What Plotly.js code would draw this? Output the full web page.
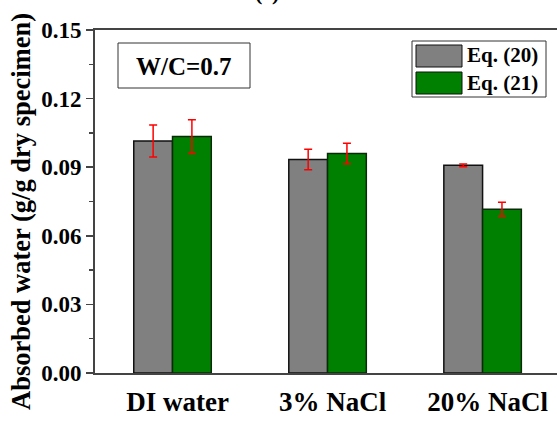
<!DOCTYPE html>
<html>
<head>
<meta charset="utf-8">
<script src="https://cdn.plot.ly/plotly-3.0.1.min.js"></script>
<style>html,body{margin:0;padding:0;background:#fff;}#chart{width:557px;height:421px;}</style>
</head>
<body>
<div id="chart"></div>
<script>
const categories = ["DI water", "3% NaCl", "20% NaCl"];
const eq20Values = [0.1015, 0.0934, 0.0908];
const eq20Errors = [0.0070, 0.0045, 0.0006];
const eq21Values = [0.1034, 0.0960, 0.0716];
const eq21Errors = [0.0074, 0.0045, 0.0031];
const seriesNames = ["Eq. (20)", "Eq. (21)"];
const yTicks = [0, 0.03, 0.06, 0.09, 0.12, 0.15];
const yTickLabels = ["0.00", "0.03", "0.06", "0.09", "0.12", "0.15"];
const yTitle = "Absorbed water (g/g dry specimen)";
const boxLabel = "W/C=0.7";
const panelTitle = "(c) 0.5";

const GRAY = "#808080", GREEN = "#008000";
const FONT = "Liberation Serif";
const L = 95, T = 30, B = 48, W = 557, H = 421;
const PW = W - L, PH = H - T - B;
const px = x => (x - L) / PW;
const py = y => (H - B - y) / PH;

const errStyle = {type: "data", visible: true, color: "#ff0000", thickness: 1.5, width: 4};
const traces = [
  {type: "bar", x: categories, y: eq20Values, name: seriesNames[0],
   marker: {color: GRAY, line: {color: "#111", width: 1.5}},
   error_y: Object.assign({array: eq20Errors}, errStyle)},
  {type: "bar", x: categories, y: eq21Values, name: seriesNames[1],
   marker: {color: GREEN, line: {color: "#0a2a0a", width: 1.5}},
   error_y: Object.assign({array: eq21Errors}, errStyle)}
];

const shapes = [
  {type: "rect", xref: "paper", yref: "paper", x0: px(412), x1: px(546), y0: py(97), y1: py(41),
   line: {color: "#333", width: 1}, fillcolor: "#fff"},
  {type: "rect", xref: "paper", yref: "paper", x0: px(416), x1: px(462), y0: py(67), y1: py(45),
   line: {color: "#111", width: 1}, fillcolor: GRAY},
  {type: "rect", xref: "paper", yref: "paper", x0: px(416), x1: px(462), y0: py(94), y1: py(72),
   line: {color: "#111", width: 1}, fillcolor: GREEN},
  {type: "rect", xref: "paper", yref: "paper", x0: px(118), x1: px(250), y0: py(88), y1: py(43),
   line: {color: "#333", width: 1}, fillcolor: "rgba(0,0,0,0)"}
];

const annotations = [
  {xref: "paper", yref: "paper", x: px(184), y: py(66), xanchor: "center", yanchor: "middle",
   text: "<b>" + boxLabel + "</b>",
   showarrow: false, font: {family: FONT, size: 25, color: "#000"}},
  {xref: "paper", yref: "paper", x: px(465), y: py(55), xanchor: "left", yanchor: "middle",
   text: "<b>" + seriesNames[0] + "</b>",
   showarrow: false, font: {family: FONT, size: 21, color: "#000"}},
  {xref: "paper", yref: "paper", x: px(465), y: py(83), xanchor: "left", yanchor: "middle",
   text: "<b>" + seriesNames[1] + "</b>",
   showarrow: false, font: {family: FONT, size: 21, color: "#000"}},
  {xref: "paper", yref: "paper", x: px(283), y: py(7), xanchor: "center", yanchor: "bottom",
   text: "<b>" + panelTitle + "</b>",
   showarrow: false, font: {family: FONT, size: 22, color: "#000"}},
  {xref: "paper", yref: "paper", x: px(21), y: py(212), xanchor: "center", yanchor: "middle", textangle: -90,
   text: "<b>" + yTitle + "</b>",
   showarrow: false, font: {family: FONT, size: 26.5, color: "#000"}}
];

const layout = {
  width: W, height: H,
  margin: {l: L, r: 0, t: T, b: B, pad: 0},
  paper_bgcolor: "#fff", plot_bgcolor: "#fff",
  showlegend: false,
  barmode: "group", bargap: 0.5, bargroupgap: 0,
  font: {family: FONT, color: "#000"},
  xaxis: {
    range: [-0.5, 2.48], tickmode: "array", tickvals: [0, 1, 2], ticktext: categories.map(c => "<b>" + c + "</b>"),
    ticks: "", tickfont: {family: FONT, size: 27, color: "#000"},
    showline: true, linecolor: "#444", linewidth: 2, mirror: true, showgrid: false, zeroline: false,
    ticklabelstandoff: 4, ticklabelshift: 5
  },
  xaxis2: {
    overlaying: "x", side: "top", range: [-0.5, 2.48], tickmode: "linear", tick0: -0.197, dtick: 0.3,
    ticks: "inside", ticklen: 3, tickwidth: 1, tickcolor: "#999", showticklabels: false,
    showline: false, showgrid: false, zeroline: false
  },
  yaxis: {
    range: [0, 0.15], tickmode: "array", tickvals: yTicks, ticktext: yTickLabels.map(t => "<b>" + t + "</b>"),
    ticks: "outside", ticklen: 7, tickwidth: 1.5, tickcolor: "#444",
    minor: {dtick: 0.015, ticks: "outside", ticklen: 4, tickwidth: 1.5, tickcolor: "#444", showgrid: false},
    tickfont: {family: FONT, size: 23, color: "#000"},
    showline: true, linecolor: "#444", linewidth: 2, showgrid: false, zeroline: false
  },
  shapes: shapes,
  annotations: annotations
};

Plotly.newPlot("chart", traces, layout, {staticPlot: true, displayModeBar: false});
</script>
</body>
</html>
